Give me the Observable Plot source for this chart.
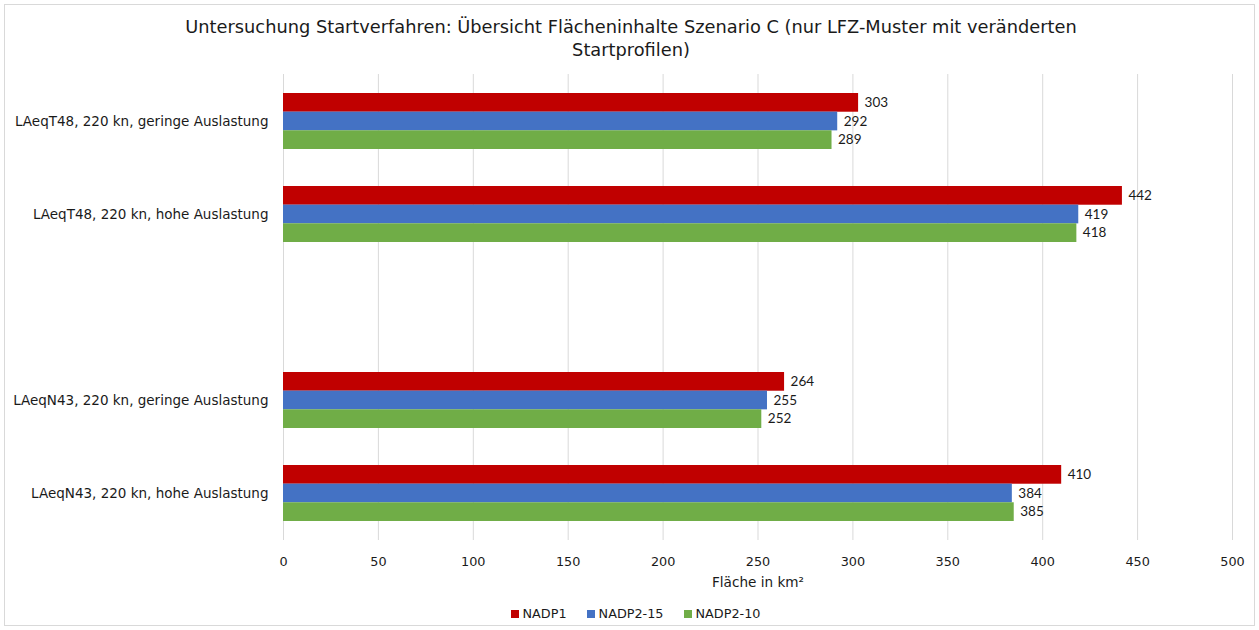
<!DOCTYPE html>
<html><head><meta charset="utf-8">
<script src="https://cdn.jsdelivr.net/npm/d3@7"></script>
<script src="https://cdn.jsdelivr.net/npm/@observablehq/plot@0.6"></script>
<style>
body{margin:0;background:#fff;}
#frame{position:absolute;left:4px;top:4px;width:1251px;height:622px;border:1px solid #d9d9d9;box-sizing:border-box;}
#title{position:absolute;left:0;top:15px;width:1262px;text-align:center;font-family:"DejaVu Sans",sans-serif;font-size:17.8px;color:#1a1a1a;line-height:23px;}
#chart{position:absolute;left:0;top:0;}
#legend{position:absolute;left:0;top:606px;width:1271px;display:flex;justify-content:center;font-family:"DejaVu Sans";font-size:12.8px;color:#1a1a1a;line-height:16px;}
#legend .item{display:flex;align-items:center;margin:0 10px;}
#legend .sw{width:8px;height:8px;margin-right:4px;}
</style></head><body>
<div id="frame"></div>
<div id="chart"></div>
<div id="title">Untersuchung Startverfahren: Übersicht Flächeninhalte Szenario C (nur LFZ-Muster mit veränderten<br>Startprofilen)</div>
<div id="legend"></div>
<script>
const categories = [
  "LAeqT48, 220 kn, geringe Auslastung",
  "LAeqT48, 220 kn, hohe Auslastung",
  " ",
  "LAeqN43, 220 kn, geringe Auslastung",
  "LAeqN43, 220 kn, hohe Auslastung"
];
const seriesNames = ["NADP1", "NADP2-15", "NADP2-10"];
const seriesColors = ["#c00000", "#4472c4", "#70ad47"];
const nadp1   = [303, 442, null, 264, 410];
const nadp215 = [292, 419, null, 255, 384];
const nadp210 = [289, 418, null, 252, 385];
const xTicks = [0, 50, 100, 150, 200, 250, 300, 350, 400, 450, 500];
const xLabel = "Fläche in km²";

const W = 1259, H = 600, mT = 74, mB = 60, mL = 283, mR = 27;
const padIn = 0.4, padOut = 0.2;
const step = (H - mT - mB) / (categories.length - padIn + 2 * padOut);
const third = step * (1 - padIn) / 3;

const seriesValues = [nadp1, nadp215, nadp210];
const marks = [
  Plot.gridX(xTicks, {stroke: "#d9d9d9", strokeOpacity: 1, strokeWidth: 1})
];
seriesValues.forEach((vals, k) => {
  const rows = categories.map((c, i) => ({category: c, value: vals[i], series: seriesNames[k]}))
    .filter(d => d.value != null);
  marks.push(Plot.barX(rows, {
    x: "value", y: "category", fill: "series",
    insetTop: third * k, insetBottom: third * (2 - k)
  }));
  marks.push(Plot.text(rows, {
    x: "value", y: "category", text: d => String(d.value),
    dx: 6, dy: third * (k - 1), textAnchor: "start",
    fontSize: 13.5, fill: "#1a1a1a", fontFamily: "Lato"
  }));
});
marks.push(Plot.axisY({tickSize: 0, tickPadding: 15, fill: "#1a1a1a", label: null}));
marks.push(Plot.axisX(xTicks, {tickSize: 0, tickPadding: 16, fill: "#1a1a1a",
  label: xLabel, labelAnchor: "center", labelArrow: "none", labelOffset: 46}));

const chart = Plot.plot({
  width: W, height: H,
  marginTop: mT, marginBottom: mB, marginLeft: mL, marginRight: mR,
  style: {fontFamily: "DejaVu Sans", fontSize: "12.6px", color: "#1a1a1a", background: "transparent"},
  x: {domain: [0, 500], label: xLabel},
  y: {domain: categories, paddingInner: padIn, paddingOuter: padOut, label: null},
  color: {domain: seriesNames, range: seriesColors},
  marks
});
document.getElementById("chart").appendChild(chart);
d3.select(chart).selectAll("text").each(function () {
  const t = this.textContent;
  if (categories.includes(t) && t.trim()) {
    d3.select(this).style("font-family", "'DejaVu Sans'").style("font-size", "13.5px");
  } else if (t === xLabel) {
    d3.select(this).style("font-family", "'DejaVu Sans'").style("font-size", "13.6px");
  } else if (xTicks.map(String).includes(t) && this.closest('g[aria-label="x-axis tick label"]')) {
    d3.select(this).style("font-family", "'DejaVu Sans'").style("font-size", "12.8px");
  }
});
const legendItems = d3.select("#legend").selectAll(".item")
  .data(seriesNames).join("div").attr("class", "item");
legendItems.append("div").attr("class", "sw").style("background", (d, i) => seriesColors[i]);
legendItems.append("span").text(d => d);
</script>
</body></html>
